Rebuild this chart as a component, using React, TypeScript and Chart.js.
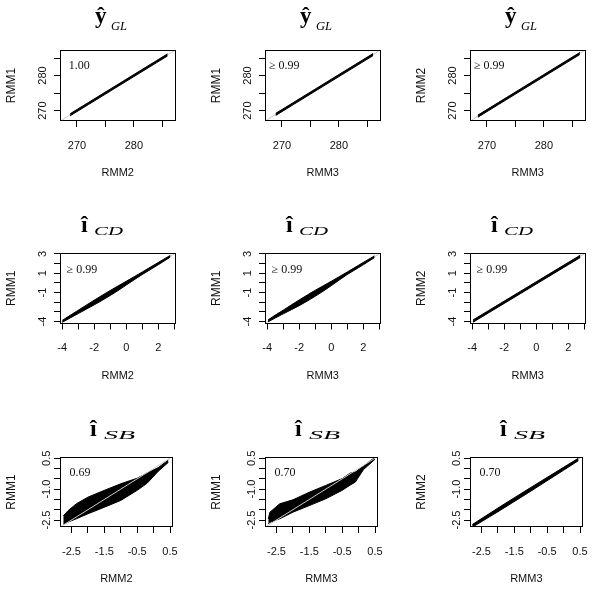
import React, { useEffect, useRef } from 'react';
import { Chart, registerables } from 'chart.js';

Chart.register(...registerables);

// ---------------- data ----------------
// Row 1: y-hat GL (scale ~267–287)
const gl12X = [268.8, 272, 276, 280, 284, 285.9];
const gl12Lo = [268.5, 271.7, 275.7, 279.7, 283.7, 285.6];
const gl12Hi = [269.1, 272.3, 276.3, 280.3, 284.3, 286.2];
const gl13X = [268.9, 272, 276, 280, 284, 286.0];
const gl13Lo = [268.6, 271.7, 275.7, 279.7, 283.7, 285.7];
const gl13Hi = [269.2, 272.3, 276.3, 280.3, 284.3, 286.3];
const gl23X = [268.4, 272, 276, 280, 284, 286.3];
const gl23Lo = [268.1, 271.7, 275.7, 279.7, 283.7, 286.0];
const gl23Hi = [268.7, 272.3, 276.3, 280.3, 284.3, 286.6];
const glRef = [267.3, 287.0];

// Row 2: i-hat CD (scale ~-4–3)
const cd12X = [-4.0, -3.5, -3.0, -2.5, -2.0, -1.5, -1.0, -0.5, 0.0, 0.5, 1.0, 2.0, 2.75];
const cd12Lo = [-4.08, -3.62, -3.17, -2.72, -2.27, -1.8, -1.3, -0.78, -0.22, 0.33, 0.87, 1.88, 2.67];
const cd12Hi = [-3.88, -3.35, -2.83, -2.3, -1.78, -1.28, -0.78, -0.3, 0.17, 0.65, 1.13, 2.12, 2.85];
const cd13X = [-3.95, -3.5, -3.0, -2.5, -2.0, -1.5, -1.0, -0.5, 0.0, 0.5, 1.0, 2.0, 2.7];
const cd13Lo = [-4.03, -3.63, -3.2, -2.78, -2.35, -1.88, -1.38, -0.85, -0.28, 0.3, 0.87, 1.88, 2.62];
const cd13Hi = [-3.83, -3.33, -2.82, -2.28, -1.76, -1.26, -0.76, -0.3, 0.17, 0.65, 1.13, 2.12, 2.8];
const cd23X = [-3.95, -3.0, -2.0, -1.0, 0.0, 1.0, 2.0, 2.75];
const cd23Lo = [-4.07, -3.12, -2.12, -1.12, -0.12, 0.88, 1.88, 2.63];
const cd23Hi = [-3.83, -2.88, -1.88, -0.88, 0.12, 1.12, 2.12, 2.87];
const cdRef = [-4.1, 3.0];

// Row 3: i-hat SB (scale ~-2.8–0.5)
const sb12X = [-2.75, -2.6, -2.35, -2.0, -1.5, -1.0, -0.5, -0.2, 0.15, 0.45];
const sb12Lo = [-2.7, -2.6, -2.44, -2.2, -1.88, -1.55, -1.06, -0.72, -0.12, 0.3];
const sb12Hi = [-2.3, -2.04, -1.71, -1.39, -1.06, -0.74, -0.47, -0.22, 0.05, 0.42];
const sb13X = [-2.75, -2.7, -2.4, -2.0, -1.5, -1.0, -0.5, -0.25, -0.1, 0.15, 0.5];
const sb13Lo = [-2.7, -2.61, -2.44, -2.12, -1.8, -1.47, -1.06, -0.8, -0.66, -0.05, 0.45];
const sb13Hi = [-2.45, -2.12, -1.71, -1.52, -1.15, -0.82, -0.49, -0.22, -0.17, 0.12, 0.55];
const sb23X = [-2.78, -2.0, -1.0, 0.0, 0.45];
const sb23Lo = [-2.85, -2.1, -1.1, -0.08, 0.38];
const sb23Hi = [-2.72, -1.92, -0.92, 0.06, 0.5];
const sbRef = [-2.8, 0.52];

// axis tick labels per row
const glTickLabelsX = [270, 280];
const glTickLabelsY = [270, 280];
const cdTickLabelsX = [-4, -2, 0, 2];
const cdTickLabelsY = [3, 1, -1, -4];
const sbTickLabelsX = [-2.5, -1.5, -0.5, 0.5];
const sbTickLabelsY = [0.5, -1.0, -2.5];

// correlation notes
const notesGL = ['1.00', '\u2265 0.99', '\u2265 0.99'];
const notesCD = ['\u2265 0.99', '\u2265 0.99', '\u2265 0.99'];
const notesSB = ['0.69', '0.70', '0.70'];

const xNames = ['RMM2', 'RMM3', 'RMM3'];
const yNames = ['RMM1', 'RMM1', 'RMM2'];

// ---------------- layout ----------------
const rows = [
  {
    min: 267.02, max: 287.3, step: 5, xLabels: glTickLabelsX, yLabels: glTickLabelsY, digits: 0,
    yPad: 1.5, boxH: 71, main: '\u0177', sub: 'GL', mainSize: 23, subSize: 12,
    mainDx: 35, mainDy: -27.5, subDx: 51, subDy: -20.5, subW: 16,
    noteX: 270.4, noteY: 282.7, notes: notesGL, refOnTop: [false, false, false],
    bands: [[gl12X, gl12Lo, gl12Hi], [gl13X, gl13Lo, gl13Hi], [gl23X, gl23Lo, gl23Hi]], ref: glRef,
  },
  {
    min: -4.14, max: 3.08, ymin: -4.2, ymax: 3.1, step: 1, xLabels: cdTickLabelsX, yLabels: cdTickLabelsY, digits: -1,
    yPad: 5.8, boxH: 70.5, main: '\u00ee', sub: 'CD', mainSize: 24, subSize: 13,
    mainDx: 21, mainDy: -21, subDx: 34, subDy: -18, subW: 29,
    noteX: -2.77, noteY: 1.33, notes: notesCD, refOnTop: [false, false, false],
    bands: [[cd12X, cd12Lo, cd12Hi], [cd13X, cd13Lo, cd13Hi], [cd23X, cd23Lo, cd23Hi]], ref: cdRef,
  },
  {
    min: -2.85, max: 0.58, ymin: -2.84, ymax: 0.56, step: 0.5, xLabels: sbTickLabelsX, yLabels: sbTickLabelsY, digits: 1,
    yPad: -2.2, boxH: 70, main: '\u00ee', sub: 'SB', mainSize: 24, subSize: 13,
    mainDx: 30, mainDy: -21.5, subDx: 44, subDy: -18.5, subW: 31,
    noteX: -2.24, noteY: -0.19, notes: notesSB, refOnTop: [true, true, false],
    bands: [[sb12X, sb12Lo, sb12Hi], [sb13X, sb13Lo, sb13Hi], [sb23X, sb23Lo, sb23Hi]], ref: sbRef,
  },
];

const CELL_W = 190;
const CELL_H = 189;
const colLefts = [0, 205, 410];
const rowTops = [0, 203, 407];

const fmt = (v: number, digits: number) => (digits < 0 ? String(v) : v.toFixed(digits));

const decoPlugin = {
  id: 'panelDeco',
  afterDraw(chart: any, _args: any, opts: any) {
    const { ctx, chartArea: a, scales } = chart;
    ctx.save();
    // box
    ctx.strokeStyle = '#000';
    ctx.lineWidth = 1;
    const l = Math.round(a.left) + 0.5;
    const t = Math.round(a.top) + 0.5;
    const r = Math.round(a.right) - 0.5;
    const b = Math.round(a.bottom) - 0.5;
    ctx.strokeRect(l, t, r - l, b - t);
    // title
    ctx.fillStyle = '#000';
    ctx.textAlign = 'left';
    ctx.textBaseline = 'alphabetic';
    ctx.font = `bold ${opts.mainSize}px "Liberation Serif"`;
    ctx.fillText(opts.main, a.left + opts.mainDx, a.top + opts.mainDy);
    ctx.font = `italic ${opts.subSize}px "Liberation Serif"`;
    const nat = ctx.measureText(opts.sub).width;
    ctx.save();
    ctx.translate(a.left + opts.subDx, a.top + opts.subDy);
    ctx.scale(opts.subW / nat, 1);
    ctx.fillText(opts.sub, 0, 0);
    ctx.restore();
    // note
    ctx.font = '12px "Liberation Serif"';
    ctx.textAlign = 'center';
    ctx.textBaseline = 'middle';
    ctx.fillStyle = '#111';
    ctx.fillText(opts.note, scales.x.getPixelForValue(opts.noteX), scales.y.getPixelForValue(opts.noteY));
    ctx.restore();
  },
};

function makeConfig(ri: number, ci: number): any {
  const row: any = rows[ri];
  const [bx, blo, bhi] = row.bands[ci];
  const ymin = row.ymin ?? row.min;
  const ymax = row.ymax ?? row.max;
  const tickFont = { family: '"Liberation Sans"', size: 11 };
  const grid = { drawOnChartArea: false, drawTicks: true, tickLength: 6, color: '#000', tickColor: '#000', lineWidth: 1 };
  const pick = (labels: number[]) =>
    function (value: any) {
      const hit = labels.find((l) => Math.abs(l - Number(value)) < 1e-6);
      return hit === undefined ? '' : fmt(hit, row.digits);
    };
  const refOrder = row.refOnTop[ci] ? 0 : 3;
  return {
    type: 'line',
    data: {
      datasets: [
        { data: bx.map((x: number, i: number) => ({ x, y: blo[i] })), borderColor: '#000', borderWidth: 1, pointRadius: 0, fill: false, order: 2, tension: 0 },
        { data: bx.map((x: number, i: number) => ({ x, y: bhi[i] })), borderColor: '#000', borderWidth: 1, pointRadius: 0, fill: 0, backgroundColor: '#000', order: 1, tension: 0 },
        { data: row.ref.map((v: number) => ({ x: v, y: v })), borderColor: '#c8c8c8', borderWidth: 1, pointRadius: 0, fill: false, order: refOrder },
      ],
    },
    options: {
      responsive: false,
      animation: false,
      devicePixelRatio: 1,
      events: [],
      layout: { padding: { left: 0, right: 14.5, top: 50, bottom: CELL_H - 50 - row.boxH - 59 } },
      plugins: {
        legend: { display: false },
        tooltip: { enabled: false },
        panelDeco: {
          main: row.main, sub: row.sub, mainSize: row.mainSize, subSize: row.subSize,
          mainDx: row.mainDx, mainDy: row.mainDy, subDx: row.subDx, subDy: row.subDy, subW: row.subW,
          note: row.notes[ci], noteX: row.noteX, noteY: row.noteY,
        },
      },
      scales: {
        x: {
          type: 'linear', position: 'bottom', min: row.min, max: row.max,
          afterFit: (s: any) => { s.height = 59; },
          ticks: { stepSize: row.step, autoSkip: false, includeBounds: false, maxRotation: 0, minRotation: 0, padding: 12, font: tickFont, color: '#111', callback: pick(row.xLabels) },
          grid, border: { display: false },
          title: { display: true, text: xNames[ci], font: { family: '"Liberation Sans"', size: 11 }, color: '#111', padding: { top: 0, bottom: 0 } },
        },
        y: {
          type: 'linear', position: 'left', min: ymin, max: ymax,
          afterFit: (s: any) => { s.width = 60; },
          ticks: { stepSize: row.step, autoSkip: false, includeBounds: false, minRotation: 90, maxRotation: 90, crossAlign: 'center', padding: row.yPad, font: tickFont, color: '#111', callback: pick(row.yLabels) },
          grid, border: { display: false },
          title: { display: true, text: yNames[ci], font: { family: '"Liberation Sans"', size: 12 }, color: '#111', padding: { top: 4, bottom: 0 } },
        },
      },
    },
    plugins: [decoPlugin],
  };
}

function Panel({ ri, ci }: { ri: number; ci: number }) {
  const ref = useRef<HTMLCanvasElement>(null);
  useEffect(() => {
    const chart = new Chart(ref.current as HTMLCanvasElement, makeConfig(ri, ci));
    return () => chart.destroy();
  }, [ri, ci]);
  return (
    <div style={{ position: 'absolute', left: colLefts[ci], top: rowTops[ri], width: CELL_W, height: CELL_H }}>
      <canvas ref={ref} width={CELL_W} height={CELL_H} style={{ display: 'block', width: CELL_W, height: CELL_H }} />
    </div>
  );
}

export default function App() {
  const cells: React.ReactNode[] = [];
  for (let r = 0; r < 3; r++) for (let c = 0; c < 3; c++) cells.push(<Panel key={`${r}-${c}`} ri={r} ci={c} />);
  return (
    <div style={{ position: 'absolute', left: 0, top: 0, width: 600, height: 596, overflow: 'hidden', background: '#fff' }}>
      {cells}
    </div>
  );
}
